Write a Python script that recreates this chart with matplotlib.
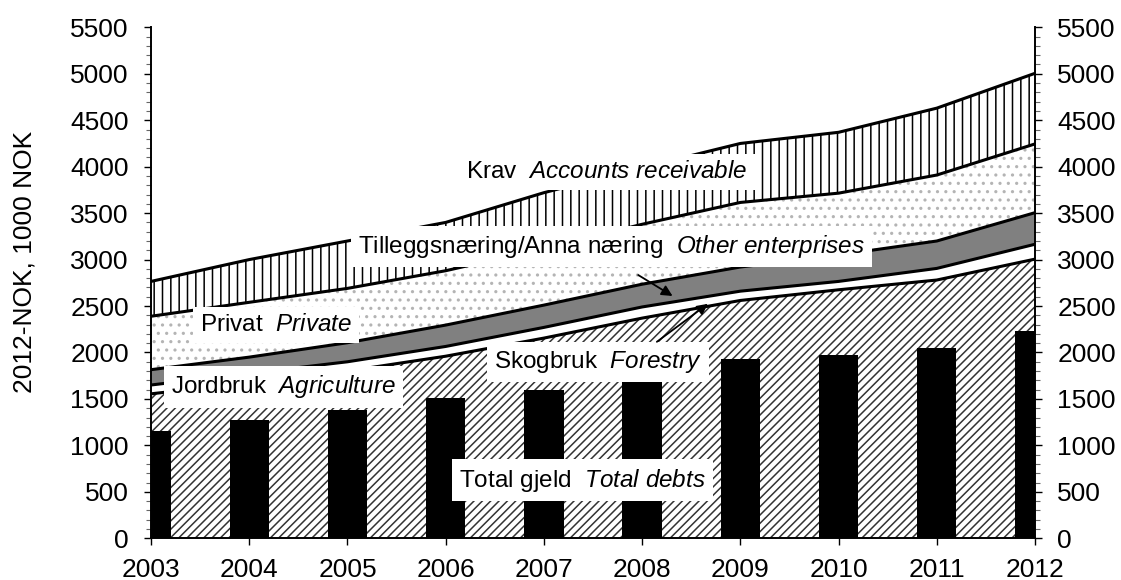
import matplotlib

matplotlib.use("Agg")
import matplotlib.pyplot as plt
import numpy as np
from matplotlib.ticker import MultipleLocator

# values (2012-NOK, 1000 NOK)
years = [2003, 2004, 2005, 2006, 2007, 2008, 2009, 2010, 2011, 2012]
jordbruk = [1555, 1675, 1800, 1960, 2155, 2370, 2560, 2675, 2780, 3005]
skogbruk = [95, 100, 100, 105, 115, 120, 100, 90, 125, 160]
tillegg = [165, 175, 205, 230, 240, 245, 260, 285, 295, 340]
privat = [575, 590, 585, 585, 610, 645, 695, 665, 710, 740]
krav = [375, 460, 510, 520, 600, 610, 635, 655, 720, 760]
total_gjeld = [1150, 1275, 1385, 1515, 1600, 1700, 1935, 1970, 2045, 2230]

plt.rcParams["font.family"] = ["Liberation Sans", "DejaVu Sans"]
plt.rcParams["mathtext.fontset"] = "custom"
plt.rcParams["mathtext.rm"] = "Liberation Sans"
plt.rcParams["mathtext.it"] = "Liberation Sans:italic"
plt.rcParams["hatch.linewidth"] = 1.1

fig = plt.figure(figsize=(11.21, 5.80), dpi=100)
ax = fig.add_axes([0.1347, 0.0719, 0.7886, 0.8810])

layers = [
    (jordbruk, dict(facecolor="white", edgecolor="#333333", hatch="////")),
    (skogbruk, dict(facecolor="white", edgecolor="white")),
    (tillegg, dict(facecolor="#808080", edgecolor="#808080")),
    (privat, dict(facecolor="white", edgecolor="#b4b4b4", hatch="..")),
    (krav, dict(facecolor="white", edgecolor="black", hatch="||")),
]
base = np.zeros(len(years))
for vals, style in layers:
    top = base + np.asarray(vals, dtype=float)
    ax.fill_between(years, base, top, linewidth=0, zorder=1, **style)
    ax.plot(years, top, color="black", lw=2.2, zorder=2, solid_joinstyle="round")
    base = top

ax.bar(years, total_gjeld, width=0.4, color="black", zorder=3)

ax.set_xlim(2003, 2012)
ax.set_ylim(0, 5500)
ax.set_xticks(years)
ax.yaxis.set_major_locator(MultipleLocator(500))
ax.yaxis.set_minor_locator(MultipleLocator(100))
ax.spines["top"].set_visible(False)
for s in ("left", "bottom", "right"):
    ax.spines[s].set_linewidth(1.4)
    ax.spines[s].set_zorder(4)

# tick marks and labels on both sides of the same axes
ax.tick_params(axis="y", which="both", left=True, right=True,
               labelleft=True, labelright=True, direction="out")
ax.tick_params(axis="y", which="major", length=5, width=1, labelsize=19, pad=11)
ax.tick_params(axis="y", which="minor", length=3.5, width=0.8, color="#666666")
ax.tick_params(axis="x", which="major", direction="out", length=5, width=1,
               labelsize=19, pad=9, top=False)
ax.tick_params(axis="x", which="minor", bottom=False, top=False)

fig.text(25 / 1121, 1 - 262 / 580, "2012-NOK, 1000 NOK", rotation=90,
         ha="center", va="center", fontsize=19)

box = dict(facecolor="white", edgecolor="none", pad=5)
labels = [
    (2007.64, 3943, r"Krav  $\mathit{Accounts\ receivable}$"),
    (2007.69, 3136, r"Tilleggsnæring/Anna næring  $\mathit{Other\ enterprises}$"),
    (2004.27, 2296, r"Privat  $\mathit{Private}$"),
    (2004.35, 1629, r"Jordbruk  $\mathit{Agriculture}$"),
    (2007.55, 1900, r"Skogbruk  $\mathit{Forestry}$"),
    (2007.39, 627, r"Total gjeld  $\mathit{Total\ debts}$"),
]
for x, y, txt in labels:
    ax.text(x, y, txt, ha="center", va="center", fontsize=17.5, bbox=box, zorder=5)

arrow = dict(arrowstyle="-|>", color="black", lw=1.3, mutation_scale=16, shrinkA=0, shrinkB=0)
ax.annotate("", xy=(2008.31, 2608), xytext=(2007.96, 2834), arrowprops=arrow, zorder=6)
ax.annotate("", xy=(2008.67, 2524), xytext=(2008.15, 2115), arrowprops=arrow, zorder=6)

fig.savefig("out.png", dpi=100)
